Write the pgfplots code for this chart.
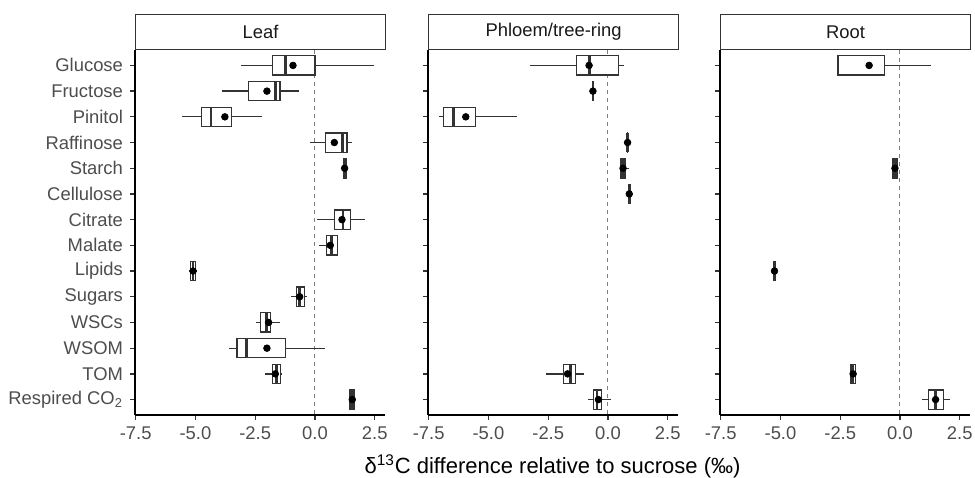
\documentclass[border=0pt]{standalone}
\usepackage{fontspec}
\setmainfont{Liberation Sans}
\usepackage{pgfplots}
\pgfplotsset{compat=1.18}
\usepgfplotslibrary{statistics}
\definecolor{ggDark}{HTML}{333333}
\definecolor{ggTick}{HTML}{4D4D4D}
\definecolor{ggMid}{HTML}{7F7F7F}

% one px of the reference = 0.5pt
\pgfplotsset{
  facet/.style={
    scale only axis, width=125pt, height=182.5pt,
    xmin=-7.53, xmax=2.93, ymin=0.4, ymax=14.6, y dir=reverse,
    axis lines*=left, axis line style={black, line width=0.75pt, -},
    xtick={-7.5,-5,-2.5,0,2.5}, xticklabels={-7.5,-5.0,-2.5,0.0,2.5},
    ytick={1,...,14},
    tick align=outside, major tick length=2.5pt,
    tick style={ggDark, line width=0.65pt},
    tick label style={font=\fontsize{9.2}{11}\selectfont, color=ggTick},
    anchor=south west,
  },
  box/.style={draw=ggDark, fill=white, line width=0.65pt, solid},
  boxplot/every median/.style={line width=1.3pt},
  boxplot/box extend=0.75,
  boxplot/whisker extend=0,
}
\tikzset{strip/.style={draw=ggDark, line width=0.6pt, fill=white, anchor=south west,
  minimum width=125pt, minimum height=17.6pt, inner sep=0pt,
  font=\fontsize{9.2}{11}\selectfont, text=black!90}}

% draw position, lower whisker, lower quartile, median, upper quartile, upper whisker
\newcommand{\bx}[6]{\addplot[box, boxplot prepared={draw position=#1,
  lower whisker=#2, lower quartile=#3, median=#4, upper quartile=#5, upper whisker=#6}] coordinates {};}
\newcommand{\zeroline}{\addplot[ggMid, line width=0.5pt, dash pattern=on 2pt off 2pt] coordinates {(0,0.4) (0,14.6)};}

\begin{document}
\begin{tikzpicture}
\useasboundingbox (0,0) rectangle (487.5pt,238.5pt);

% Leaf
\begin{axis}[facet, name=leaf, at={(67.5pt,31pt)},
  yticklabels={Glucose,Fructose,Pinitol,Raffinose,Starch,Cellulose,Citrate,Malate,
    Lipids,Sugars,WSCs,WSOM,TOM,Respired CO\textsubscript{2}}]
\zeroline
\bx{1}{-3.08}{-1.78}{-1.23}{0.0}{2.45}
\bx{2}{-3.89}{-2.79}{-1.64}{-1.46}{-0.68}
\bx{3}{-5.58}{-4.76}{-4.35}{-3.50}{-2.21}
\bx{4}{-0.22}{0.43}{1.14}{1.34}{1.53}
\bx{5}{1.18}{1.18}{1.25}{1.32}{1.32}
\bx{7}{0.07}{0.82}{1.18}{1.50}{2.10}
\bx{8}{0.18}{0.47}{0.68}{0.93}{0.97}
\bx{9}{-5.29}{-5.20}{-5.10}{-5.00}{-4.93}
\bx{10}{-0.99}{-0.78}{-0.64}{-0.43}{-0.32}
\bx{11}{-2.48}{-2.28}{-2.03}{-1.87}{-1.46}
\bx{12}{-3.61}{-3.26}{-2.87}{-1.24}{0.42}
\bx{13}{-2.09}{-1.78}{-1.62}{-1.43}{-1.41}
\bx{14}{1.45}{1.47}{1.56}{1.65}{1.67}
\addplot[only marks, mark=*, mark size=1.65pt, black] coordinates {
  (-0.92,1) (-2.01,2) (-3.77,3) (0.81,4) (1.24,5) (1.13,7) (0.64,8)
  (-5.10,9) (-0.64,10) (-1.94,11) (-2.01,12) (-1.66,13) (1.56,14)};
\end{axis}
\node[strip] at (leaf.north west) {Leaf};

% Phloem/tree-ring
\begin{axis}[facet, name=phloem, at={(214pt,31pt)}, yticklabels={}]
\zeroline
\bx{1}{-3.25}{-1.32}{-0.78}{0.43}{0.68}
\bx{2}{-0.66}{-0.65}{-0.63}{-0.61}{-0.60}
\bx{3}{-7.05}{-6.89}{-6.47}{-5.53}{-3.81}
\bx{4}{0.80}{0.81}{0.82}{0.83}{0.84}
\bx{5}{0.52}{0.52}{0.60}{0.71}{0.86}
\bx{6}{0.87}{0.88}{0.89}{0.90}{0.91}
\bx{13}{-2.61}{-1.87}{-1.56}{-1.37}{-1.00}
\bx{14}{-0.82}{-0.60}{-0.46}{-0.28}{0.13}
\addplot[only marks, mark=*, mark size=1.65pt, black] coordinates {
  (-0.79,1) (-0.63,2) (-5.95,3) (0.82,4) (0.63,5) (0.89,6) (-1.69,13) (-0.40,14)};
\end{axis}
\node[strip] at (phloem.north west) {Phloem/tree-ring};

% Root
\begin{axis}[facet, name=root, at={(360pt,31pt)}, yticklabels={}]
\zeroline
\bx{1}{-2.60}{-2.60}{-2.60}{-0.65}{1.28}
\bx{5}{-0.29}{-0.29}{-0.19}{-0.10}{-0.10}
\bx{9}{-5.27}{-5.26}{-5.25}{-5.24}{-5.23}
\bx{13}{-2.05}{-2.05}{-1.96}{-1.87}{-1.87}
\bx{14}{0.92}{1.20}{1.49}{1.81}{2.09}
\addplot[only marks, mark=*, mark size=1.65pt, black] coordinates {
  (-1.29,1) (-0.21,5) (-5.25,9) (-1.96,13) (1.49,14)};
\end{axis}
\node[strip] at (root.north west) {Root};

\node[font=\fontsize{11}{13}\selectfont] at (276.25pt,5.5pt)
  {δ\textsuperscript{13}C difference relative to sucrose (‰)};
\end{tikzpicture}
\end{document}
